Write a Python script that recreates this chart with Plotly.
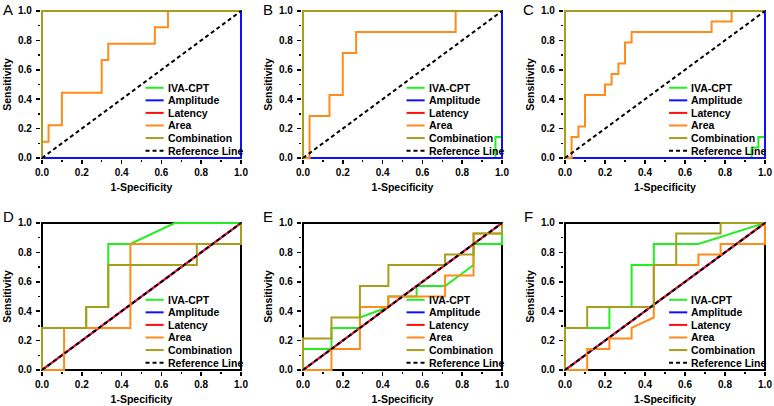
import plotly.graph_objects as go

# ---------------- data ----------------
series_names = ["IVA-CPT", "Amplitude", "Latency", "Area", "Combination", "Reference Line"]
series_colors = ["#22ee22", "#1010ff", "#ff1010", "#ff8c1a", "#a89e1e", "#000000"]
panel_letters = ["A", "B", "C", "D", "E", "F"]
tick_vals = [0.0, 0.2, 0.4, 0.6, 0.8, 1.0]
tick_text = ["0.0", "0.2", "0.4", "0.6", "0.8", "1.0"]

perfect_x = [0, 0, 1]
perfect_y = [0, 1, 1]
worst_x = [0, 1, 1]
worst_y = [0, 0, 1]
diag_x = [0, 1]
diag_y = [0, 1]

# Panel A
A_iva_x, A_iva_y = perfect_x, perfect_y
A_amp_x, A_amp_y = worst_x, worst_y
A_lat_x, A_lat_y = perfect_x, perfect_y
A_area_x = [0, 0, 0.033, 0.033, 0.1, 0.1, 0.3, 0.3, 0.333, 0.333, 0.567, 0.567, 0.633, 0.633, 1]
A_area_y = [0, 0.111, 0.111, 0.222, 0.222, 0.444, 0.444, 0.667, 0.667, 0.778, 0.778, 0.889, 0.889, 1, 1]
A_comb_x, A_comb_y = perfect_x, perfect_y

# Panel B
B_iva_x = [0, 0.967, 0.967, 1, 1]
B_iva_y = [0, 0, 0.143, 0.143, 1]
B_amp_x, B_amp_y = worst_x, worst_y
B_lat_x, B_lat_y = perfect_x, perfect_y
B_area_x = [0, 0.033, 0.033, 0.133, 0.133, 0.2, 0.2, 0.267, 0.267, 0.767, 0.767, 1]
B_area_y = [0, 0, 0.286, 0.286, 0.429, 0.429, 0.714, 0.714, 0.857, 0.857, 1, 1]
B_comb_x, B_comb_y = perfect_x, perfect_y

# Panel C
C_iva_x = [0, 0.933, 0.933, 0.967, 0.967, 1, 1]
C_iva_y = [0, 0, 0.071, 0.071, 0.143, 0.143, 1]
C_amp_x, C_amp_y = worst_x, worst_y
C_lat_x, C_lat_y = perfect_x, perfect_y
C_area_x = [0, 0.033, 0.033, 0.067, 0.067, 0.1, 0.1, 0.2, 0.2, 0.233, 0.233, 0.267, 0.267,
            0.3, 0.3, 0.333, 0.333, 0.733, 0.733, 0.833, 0.833, 1]
C_area_y = [0, 0, 0.143, 0.143, 0.214, 0.214, 0.429, 0.429, 0.5, 0.5, 0.571, 0.571, 0.643,
            0.643, 0.786, 0.786, 0.857, 0.857, 0.929, 0.929, 1, 1]
C_comb_x, C_comb_y = perfect_x, perfect_y

# Panel D
D_iva_x = [0, 0, 0.222, 0.222, 0.333, 0.333, 0.444, 0.667, 1]
D_iva_y = [0, 0.286, 0.286, 0.429, 0.429, 0.857, 0.857, 1, 1]
D_amp_x, D_amp_y = diag_x, diag_y
D_lat_x, D_lat_y = diag_x, diag_y
D_area_x = [0, 0.111, 0.111, 0.444, 0.444, 1, 1]
D_area_y = [0, 0, 0.286, 0.286, 0.857, 0.857, 1]
D_comb_x = [0, 0, 0.222, 0.222, 0.333, 0.333, 0.778, 0.778, 1, 1]
D_comb_y = [0, 0.286, 0.286, 0.429, 0.429, 0.714, 0.714, 0.857, 0.857, 1]

# Panel E
E_iva_x = [0, 0, 0.143, 0.143, 0.286, 0.286, 0.429, 0.429, 0.571, 0.571, 0.714, 0.857, 0.857, 1, 1]
E_iva_y = [0, 0.143, 0.143, 0.286, 0.286, 0.357, 0.429, 0.5, 0.5, 0.571, 0.571, 0.714, 0.857, 0.857, 1]
E_amp_x, E_amp_y = diag_x, diag_y
E_lat_x, E_lat_y = diag_x, diag_y
E_area_x = [0, 0.143, 0.143, 0.286, 0.286, 0.429, 0.429, 0.714, 0.714, 0.857, 0.857, 1, 1]
E_area_y = [0, 0, 0.143, 0.143, 0.429, 0.429, 0.5, 0.5, 0.643, 0.643, 0.929, 0.929, 1]
E_comb_x = [0, 0, 0.143, 0.143, 0.286, 0.286, 0.429, 0.429, 0.714, 0.714, 0.857, 0.857, 1, 1]
E_comb_y = [0, 0.214, 0.214, 0.357, 0.357, 0.571, 0.571, 0.714, 0.714, 0.786, 0.786, 0.929, 0.929, 1]

# Panel F
F_iva_x = [0, 0, 0.222, 0.222, 0.333, 0.333, 0.444, 0.444, 0.667, 1]
F_iva_y = [0, 0.286, 0.286, 0.429, 0.429, 0.714, 0.714, 0.857, 0.857, 1]
F_amp_x, F_amp_y = diag_x, diag_y
F_lat_x, F_lat_y = diag_x, diag_y
F_area_x = [0, 0.111, 0.111, 0.222, 0.222, 0.333, 0.333, 0.444, 0.444, 0.667, 0.667, 0.778, 0.778, 1, 1]
F_area_y = [0, 0, 0.143, 0.143, 0.214, 0.214, 0.286, 0.357, 0.714, 0.714, 0.786, 0.786, 0.857, 0.857, 1]
F_comb_x = [0, 0, 0.111, 0.111, 0.444, 0.444, 0.556, 0.556, 0.778, 0.778, 1]
F_comb_y = [0, 0.286, 0.286, 0.429, 0.429, 0.714, 0.714, 0.929, 0.929, 1, 1]

panels = [
    [(A_iva_x, A_iva_y), (A_amp_x, A_amp_y), (A_lat_x, A_lat_y), (A_area_x, A_area_y), (A_comb_x, A_comb_y), (diag_x, diag_y)],
    [(B_iva_x, B_iva_y), (B_amp_x, B_amp_y), (B_lat_x, B_lat_y), (B_area_x, B_area_y), (B_comb_x, B_comb_y), (diag_x, diag_y)],
    [(C_iva_x, C_iva_y), (C_amp_x, C_amp_y), (C_lat_x, C_lat_y), (C_area_x, C_area_y), (C_comb_x, C_comb_y), (diag_x, diag_y)],
    [(D_iva_x, D_iva_y), (D_amp_x, D_amp_y), (D_lat_x, D_lat_y), (D_area_x, D_area_y), (D_comb_x, D_comb_y), (diag_x, diag_y)],
    [(E_iva_x, E_iva_y), (E_amp_x, E_amp_y), (E_lat_x, E_lat_y), (E_area_x, E_area_y), (E_comb_x, E_comb_y), (diag_x, diag_y)],
    [(F_iva_x, F_iva_y), (F_amp_x, F_amp_y), (F_lat_x, F_lat_y), (F_area_x, F_area_y), (F_comb_x, F_comb_y), (diag_x, diag_y)],
]

# ---------------- layout ----------------
W, H = 774, 406
FONT = "Arial, 'Liberation Sans', sans-serif"
col_px = [(42, 241), (303, 502), (565, 765)]
row_px = [(11, 158), (223, 370)]  # (top=1.0, bottom=0.0)
PAD = 0.006
DASH = "4px,3px"
TXT = 10.5

fig = go.Figure()
layout_axes = {}
shapes = []
annotations = []

for k in range(6):
    r, c = divmod(k, 3)
    x0p, x1p = col_px[c]
    ytp, ybp = row_px[r]
    wpx = x1p - x0p
    hpx = ybp - ytp
    xdom = [(x0p - PAD * wpx) / W, (x1p + PAD * wpx) / W]
    ydom = [1 - (ybp + PAD * hpx) / H, 1 - (ytp - PAD * hpx) / H]
    sfx = "" if k == 0 else str(k + 1)
    xref, yref = "x" + sfx, "y" + sfx

    for i, (xs, ys) in enumerate(panels[k]):
        fig.add_trace(go.Scatter(
            x=xs, y=ys, mode="lines", name=series_names[i], showlegend=False,
            line=dict(color=series_colors[i], width=2,
                      dash=DASH if i == 5 else "solid"),
            xaxis=xref, yaxis=yref, hoverinfo="skip"))

    common = dict(
        range=[-PAD, 1 + PAD], showgrid=False, zeroline=False, showline=False,
        ticks="outside", ticklen=4, tickwidth=1.5, tickcolor="black",
        tickvals=tick_vals, ticktext=tick_text,
        tickfont=dict(family=FONT, size=10, color="black", weight="bold"),
        minor=dict(ticks="outside", ticklen=2, tickwidth=1.5, tickcolor="black",
                   tickvals=[0.1, 0.3, 0.5, 0.7, 0.9]),
        automargin=False, fixedrange=True,
    )
    layout_axes["xaxis" + sfx] = dict(
        common, domain=xdom, anchor=yref,
        title=dict(text="1-Specificity", standoff=6,
                   font=dict(family=FONT, size=TXT, color="black", weight="bold")))
    layout_axes["yaxis" + sfx] = dict(
        common, domain=ydom, anchor=xref, ticklabelstandoff=2,
        title=dict(text="Sensitivity", standoff=4,
                   font=dict(family=FONT, size=TXT, color="black", weight="bold")))

    # frame
    shapes.append(dict(type="rect", xref=xref, yref=yref, x0=0, x1=1, y0=0, y1=1,
                       line=dict(color="black", width=2), layer="below"))

    # compact legend
    for i, name in enumerate(series_names):
        yy = 0.478 - i * 0.0845
        shapes.append(dict(type="line", xref=xref + " domain", yref=yref + " domain",
                           x0=0.52, x1=0.61, y0=yy, y1=yy,
                           line=dict(color=series_colors[i], width=2,
                                     dash=DASH if i == 5 else "solid")))
        annotations.append(dict(xref=xref + " domain", yref=yref + " domain",
                                x=0.62, y=yy, text=name, showarrow=False,
                                xanchor="left", yanchor="middle",
                                font=dict(family=FONT, size=TXT, color="black", weight="bold")))

# panel letters
letter_pos = [(8, 9), (268, 9), (528, 9), (8, 217), (268, 217), (528, 217)]
for (lx, ly), letter in zip(letter_pos, panel_letters):
    annotations.append(dict(xref="paper", yref="paper", x=lx / W, y=1 - ly / H,
                            text=letter, showarrow=False, xanchor="center", yanchor="middle",
                            font=dict(family=FONT, size=15, color="black")))

fig.update_layout(
    width=W, height=H, margin=dict(l=0, r=0, t=0, b=0),
    paper_bgcolor="white", plot_bgcolor="white",
    shapes=shapes, annotations=annotations, **layout_axes,
)

fig.write_html("out.html", config={"displayModeBar": False, "staticPlot": True},
               post_script="document.body.style.margin='0';document.body.style.padding='0';")
